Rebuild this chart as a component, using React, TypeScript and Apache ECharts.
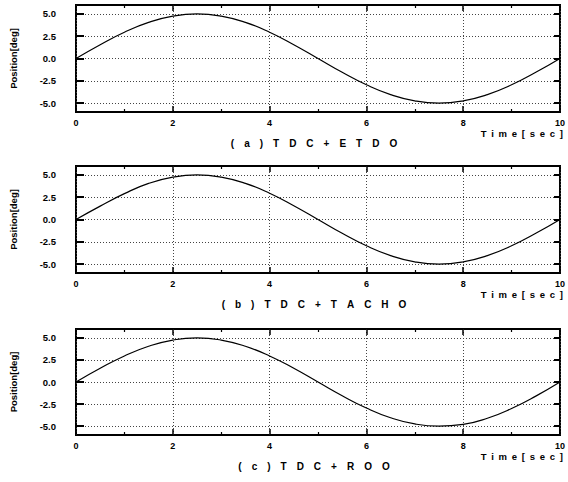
import React, { useEffect, useRef } from "react";
import * as echarts from "echarts";

const timeValues = [0, 0.5, 1, 1.5, 2, 2.5, 3, 3.5, 4, 4.5, 5, 5.5, 6, 6.5, 7, 7.5, 8, 8.5, 9, 9.5, 10];
const positionA = [0, 1.55, 2.95, 4.05, 4.75, 5.0, 4.75, 4.05, 2.95, 1.55, 0, -1.55, -2.95, -4.05, -4.75, -5.0, -4.75, -4.05, -2.95, -1.55, 0];
const positionB = [0, 1.5, 2.9, 4.05, 4.75, 5.0, 4.75, 4.05, 2.95, 1.55, 0, -1.55, -2.95, -4.05, -4.75, -5.0, -4.75, -4.05, -2.95, -1.55, 0];
const positionC = [0, 1.55, 2.95, 4.05, 4.75, 5.0, 4.75, 4.05, 2.95, 1.55, 0, -1.55, -2.95, -4.05, -4.75, -5.0, -4.8, -4.1, -3.0, -1.6, 0];
const yTickValues = [-5, -2.5, 0, 2.5, 5];
const panelTitles = ["(a) TDC+ETDO", "(b) TDC+TACHO", "(c) TDC+ROO"];
const xAxisTitle = "Time[sec]";
const yAxisTitle = "Position[deg]";

const FONT = "'Liberation Sans', Arial, sans-serif";

export default function App() {
  const ref = useRef<HTMLDivElement>(null);
  useEffect(() => {
    document.body.style.margin = "0";
    if (!ref.current) return;
    const chart = echarts.init(ref.current, undefined, { renderer: "svg" });
    const seriesData = [positionA, positionB, positionC];
    const tops = [5, 166, 329];
    const heights = [107, 107, 106];
    const left = 75;
    const width = 488;

    const grids: any[] = [];
    const xAxes: any[] = [];
    const yAxes: any[] = [];
    const series: any[] = [];
    const graphics: any[] = [];

    const labelStyle = { fontFamily: FONT, fontWeight: "bold", fontSize: 9, color: "#000" };
    const splitStyle = { show: true, lineStyle: { color: "#444", width: 1, type: [1, 2] } };

    for (let i = 0; i < 3; i++) {
      grids.push({
        left,
        top: tops[i],
        width,
        height: heights[i],
        show: true,
        borderColor: "#000",
        borderWidth: 2,
        backgroundColor: "transparent",
      });
      xAxes.push({
        type: "value",
        gridIndex: i,
        position: "bottom",
        min: 0,
        max: 10,
        interval: 2,
        axisLine: { show: false, onZero: false },
        axisTick: { show: true, inside: true, length: 6, lineStyle: { color: "#000", width: 1.5 } },
        minorTick: { show: true, splitNumber: 2, length: 3, lineStyle: { color: "#000", width: 1.2 } },
        axisLabel: { ...labelStyle, margin: 6 },
        splitLine: splitStyle,
      });
      xAxes.push({
        type: "value",
        gridIndex: i,
        position: "top",
        min: 0,
        max: 10,
        interval: 2,
        axisLine: { show: false, onZero: false },
        axisTick: { show: true, inside: true, length: 6, lineStyle: { color: "#000", width: 1.5 } },
        minorTick: { show: true, splitNumber: 2, length: 3, lineStyle: { color: "#000", width: 1.2 } },
        axisLabel: { show: false },
        splitLine: { show: false },
      });
      yAxes.push({
        type: "value",
        gridIndex: i,
        position: "left",
        min: -6,
        max: 6,
        axisLine: { show: false, onZero: false },
        axisTick: { show: true, inside: true, length: 8, customValues: yTickValues, lineStyle: { color: "#000", width: 2 } },
        axisLabel: {
          ...labelStyle,
          fontSize: 9.5,
          margin: 20,
          customValues: yTickValues,
          formatter: (v: number) => v.toFixed(1),
        },
        splitLine: splitStyle,
        name: yAxisTitle,
        nameLocation: "middle",
        nameRotate: 90,
        nameGap: 58,
        nameTextStyle: { fontFamily: FONT, fontWeight: "bold", fontSize: 9.5, color: "#000" },
      });
      yAxes.push({
        type: "value",
        gridIndex: i,
        position: "right",
        min: -6,
        max: 6,
        axisLine: { show: false, onZero: false },
        axisTick: { show: true, inside: true, length: 6, customValues: yTickValues, lineStyle: { color: "#000", width: 2 } },
        axisLabel: { show: false, customValues: yTickValues },
        splitLine: { show: false },
      });
      series.push({
        type: "line",
        xAxisIndex: i * 2,
        yAxisIndex: i * 2,
        data: timeValues.map((t, k) => [t, seriesData[i][k]]),
        smooth: true,
        showSymbol: false,
        lineStyle: { color: "#000", width: 1.2 },
      });
      const bottom = tops[i] + heights[i];
      graphics.push({
        type: "text",
        x: left + width,
        y: bottom + 21,
        style: {
          text: xAxisTitle.split("").join("\u2002"),
          align: "right",
          verticalAlign: "middle",
          font: `bold 9.5px ${FONT}`,
          fill: "#000",
        },
      });
      graphics.push({
        type: "text",
        x: 314,
        y: bottom + 31,
        style: {
          text: panelTitles[i].replace(/ /g, "").split("").join("\u2003"),
          align: "center",
          verticalAlign: "middle",
          font: `bold 10px ${FONT}`,
          fill: "#000",
        },
      });
    }

    chart.setOption({
      animation: false,
      backgroundColor: "#fff",
      grid: grids,
      xAxis: xAxes,
      yAxis: yAxes,
      series,
      graphic: graphics,
    });
    return () => chart.dispose();
  }, []);
  return <div ref={ref} style={{ width: 568, height: 482 }} />;
}
